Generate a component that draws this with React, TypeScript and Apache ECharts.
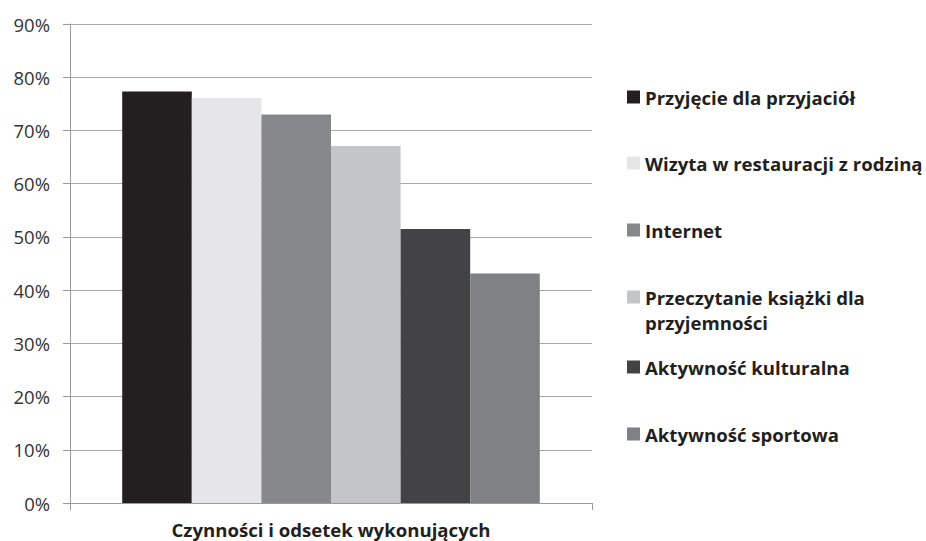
import React, { useEffect, useRef } from "react";
import * as echarts from "echarts";

const categories = ["Czynności i odsetek wykonujących"];
const seriesNames = [
  "Przyjęcie dla przyjaciół",
  "Wizyta w restauracji z rodziną",
  "Internet",
  "Przeczytanie książki dla\nprzyjemności",
  "Aktywność kulturalna",
  "Aktywność sportowa",
];
const seriesValues = [0.773, 0.761, 0.73, 0.671, 0.515, 0.431];
const seriesColors = ["#231f20", "#e6e6e8", "#87888c", "#c4c5c7", "#434345", "#808184"];
const yTicks = { min: 0, max: 0.9, interval: 0.1 };
const legendCenters = [97, 163, 230, 297, 367, 434];

const FONT = "'Open Sans', sans-serif";
const LH = 25;
const LFS = 18.6;

export default function App() {
  const ref = useRef<HTMLDivElement>(null);
  useEffect(() => {
    if (!ref.current) return;
    const chart = echarts.init(ref.current, undefined, { renderer: "svg" });
    const legendText = {
      fontFamily: FONT,
      fontWeight: "bold",
      fontSize: LFS,
      color: "#231f20",
      lineHeight: LH,
    };
    chart.setOption({
      animation: false,
      backgroundColor: "#ffffff",
      textStyle: { fontFamily: FONT },
      grid: { left: 70, right: 334, top: 24, bottom: 38, containLabel: false, outerBoundsMode: "none" },
      legend: seriesNames.map((n, i) => ({
        show: true,
        data: [n],
        orient: "vertical",
        left: 627,
        top: legendCenters[i] - LH / 2,
        padding: 0,
        icon: "rect",
        itemWidth: 13,
        itemHeight: 13,
        itemGap: 6,
        selectedMode: false,
        formatter: (name: string) => name.split("\n")[0],
        textStyle: { ...legendText },
      })),
      graphic: [
        {
          type: "text",
          left: 645,
          top: legendCenters[3] + LH / 2,
          style: {
            text: seriesNames[3].split("\n")[1],
            fill: "#231f20",
            font: `bold ${LFS}px ${FONT}`,
            lineHeight: LH,
            verticalAlign: "top",
          },
        },
      ],
      xAxis: {
        type: "category",
        data: categories,
        axisLine: { show: true, lineStyle: { color: "#9a9a9a", width: 1 } },
        axisTick: { show: true, length: 7, lineStyle: { color: "#9a9a9a" } },
        axisLabel: { show: false },
        name: categories[0],
        nameLocation: "middle",
        nameGap: 17,
        nameTextStyle: { fontFamily: FONT, fontWeight: "bold", fontSize: 18.6, color: "#231f20" },
      },
      yAxis: {
        type: "value",
        min: yTicks.min,
        max: yTicks.max,
        interval: yTicks.interval,
        axisLine: { show: true, lineStyle: { color: "#9a9a9a", width: 1 } },
        axisTick: { show: true, length: 7, lineStyle: { color: "#9a9a9a" } },
        splitLine: { show: true, lineStyle: { color: "#a8a8a8", width: 1 } },
        axisLabel: {
          formatter: (v: number) => Math.round(v * 100) + "%",
          fontFamily: FONT,
          fontSize: 18.5,
          color: "#333333",
          margin: 20,
        },
      },
      series: seriesNames.map((n, i) => ({
        name: n,
        type: "bar",
        data: [seriesValues[i]],
        barGap: "0%",
        barCategoryGap: "20%",
        itemStyle: { color: seriesColors[i] },
      })),
    });
    return () => chart.dispose();
  }, []);
  return <div ref={ref} style={{ width: 926, height: 541, position: "absolute", left: 0, top: 0 }} />;
}
